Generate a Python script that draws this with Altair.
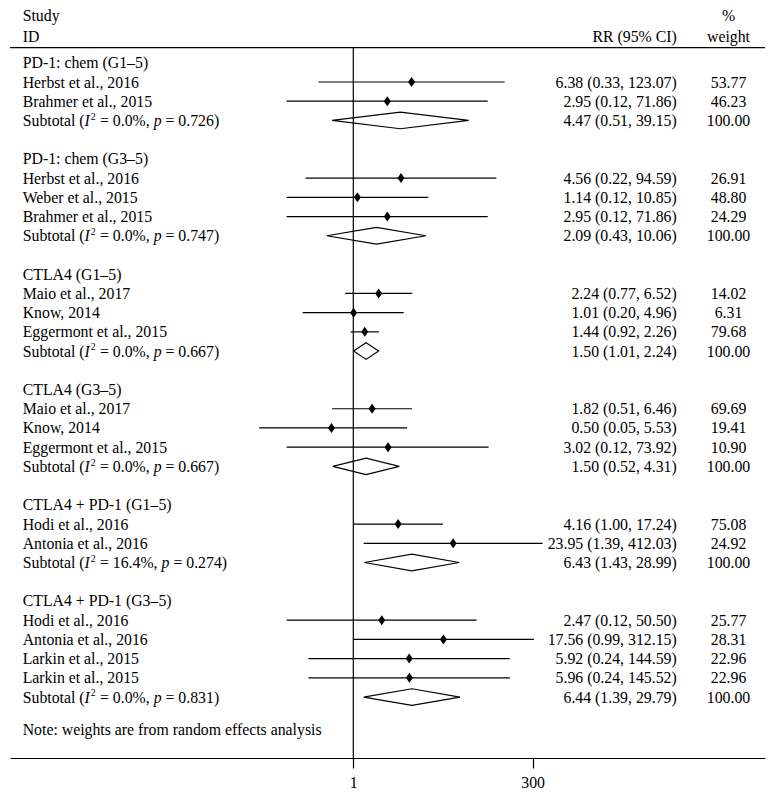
import altair as alt
import pandas as pd

# ---------------- data ----------------
group_titles = [
    "PD-1: chem (G1–5)",
    "PD-1: chem (G3–5)",
    "CTLA4 (G1–5)",
    "CTLA4 (G3–5)",
    "CTLA4 + PD-1 (G1–5)",
    "CTLA4 + PD-1 (G3–5)",
]
study_group = [0, 0, 1, 1, 1, 2, 2, 2, 3, 3, 3, 4, 4, 5, 5, 5, 5]
study_names = [
    "Herbst et al., 2016", "Brahmer et al., 2015",
    "Herbst et al., 2016", "Weber et al., 2015", "Brahmer et al., 2015",
    "Maio et al., 2017", "Know, 2014", "Eggermont et al., 2015",
    "Maio et al., 2017", "Know, 2014", "Eggermont et al., 2015",
    "Hodi et al., 2016", "Antonia et al., 2016",
    "Hodi et al., 2016", "Antonia et al., 2016", "Larkin et al., 2015", "Larkin et al., 2015",
]
study_rr = [6.38, 2.95, 4.56, 1.14, 2.95, 2.24, 1.01, 1.44, 1.82, 0.50, 3.02, 4.16, 23.95, 2.47, 17.56, 5.92, 5.96]
study_lo = [0.33, 0.12, 0.22, 0.12, 0.12, 0.77, 0.20, 0.92, 0.51, 0.05, 0.12, 1.00, 1.39, 0.12, 0.99, 0.24, 0.24]
study_hi = [123.07, 71.86, 94.59, 10.85, 71.86, 6.52, 4.96, 2.26, 6.46, 5.53, 73.92, 17.24, 412.03, 50.50, 312.15, 144.59, 145.52]
study_wt = [53.77, 46.23, 26.91, 48.80, 24.29, 14.02, 6.31, 79.68, 69.69, 19.41, 10.90, 75.08, 24.92, 25.77, 28.31, 22.96, 22.96]

sub_rr = [4.47, 2.09, 1.50, 1.50, 6.43, 6.44]
sub_lo = [0.51, 0.43, 1.01, 0.52, 1.43, 1.39]
sub_hi = [39.15, 10.06, 2.24, 4.31, 28.99, 29.79]
sub_i2 = ["0.0", "0.0", "0.0", "0.0", "16.4", "0.0"]
sub_p = ["0.726", "0.747", "0.667", "0.667", "0.274", "0.831"]
sub_wt = [100.00, 100.00, 100.00, 100.00, 100.00, 100.00]

x_ticks = [1, 300]
note_text = "Note: weights are from random effects analysis"

# ---------------- layout / style ----------------
FONT = "Liberation Serif"
F = 15.8
W, H = 755, 750
ROW0, STEP = 54.78, 19.22
LEFT_X, CI_X, WT_X = 12.7, 666.7, 718.5
DY = 5.5
LW = 1.2

# ---------------- build tables ----------------
hdr_rows, st_rows, sb_rows = [], [], []
r = 0
si = 0
for g, title in enumerate(group_titles):
    hdr_rows.append({"row": r, "label": title})
    r += 1
    while si < len(study_group) and study_group[si] == g:
        st_rows.append({"row": r, "label": study_names[si], "rr": study_rr[si],
                        "lo": study_lo[si], "hi": study_hi[si], "wt": study_wt[si]})
        si += 1
        r += 1
    sb_rows.append({"row": r, "grp": g, "rr": sub_rr[g], "lo": sub_lo[g], "hi": sub_hi[g],
                    "i2": sub_i2[g], "p": sub_p[g], "wt": sub_wt[g]})
    r += 2

hdr = pd.DataFrame(hdr_rows)
st = pd.DataFrame(st_rows)
sb = pd.DataFrame(sb_rows)
for d in (st, sb):
    d["ci"] = [f"{a:.2f} ({b:.2f}, {c:.2f})" for a, b, c in zip(d.rr, d.lo, d.hi)]
    d["wtxt"] = [f"{w:.2f}" for w in d.wt]

HALF = 8.3 / STEP
dia = []
for _, s in sb.iterrows():
    pts = [(s.lo, s.row), (s.rr, s.row - HALF), (s.hi, s.row), (s.rr, s.row + HALF), (s.lo, s.row)]
    for k, (xv, yv) in enumerate(pts):
        dia.append({"grp": s.grp, "k": k, "xv": xv, "yv": yv})
dia = pd.DataFrame(dia)

labels = pd.concat([hdr[["row", "label"]], st[["row", "label"]]])
cis = pd.concat([st[["row", "ci", "wtxt"]], sb[["row", "ci", "wtxt"]]])

xs = alt.Scale(type="log", domain=[10 ** -4.7417, 10 ** 5.6865], nice=False, zero=False)
ys = alt.Scale(domain=[-ROW0 / STEP, (H - ROW0) / STEP], reverse=True, nice=False, zero=False)
xaxis = alt.Axis(values=x_ticks, format="d", title=None, grid=False,
                 domainColor="black", domainWidth=LW, tickColor="black", tickWidth=LW,
                 tickSize=10, labelFont=FONT, labelFontSize=F, labelColor="black",
                 labelPadding=7.5, labelFlush=False, labelOverlap=False)
Y = alt.Y("row:Q", scale=ys, axis=None)

one = pd.DataFrame({"v": [1]})

top_line = alt.Chart(one).mark_rule(color="black", strokeWidth=LW).encode(
    x=alt.value(0), x2=alt.value(W), y=alt.value(39.7))
ref_line = alt.Chart(one).mark_rule(color="black", strokeWidth=LW).encode(
    x=alt.X("v:Q", scale=xs, axis=xaxis), y=alt.value(39.7), y2=alt.value(H))

ci_lines = alt.Chart(st).mark_rule(color="black", strokeWidth=LW).encode(
    x=alt.X("lo:Q", scale=xs, axis=xaxis), x2="hi:Q", y=Y)
pts = alt.Chart(st).mark_point(shape="M0,-1L0.7,0L0,1L-0.7,0Z", filled=True, size=100,
                               color="black", opacity=1).encode(
    x=alt.X("rr:Q", scale=xs, axis=xaxis), y=Y)
diamonds = alt.Chart(dia).mark_line(color="black", strokeWidth=LW, strokeJoin="miter").encode(
    x=alt.X("xv:Q", scale=xs, axis=xaxis), y=alt.Y("yv:Q", scale=ys, axis=None),
    detail="grp:N", order="k:Q")

def txt(data, **kw):
    base = dict(font=FONT, fontSize=F, color="black", baseline="alphabetic", dy=DY)
    base.update(kw)
    return alt.Chart(data).mark_text(**base)

lab_layer = txt(labels, align="left").encode(x=alt.value(LEFT_X), y=Y, text="label:N")
ci_layer = txt(cis, align="right").encode(x=alt.value(CI_X), y=Y, text="ci:N")
wt_layer = txt(cis, align="center").encode(x=alt.value(WT_X), y=Y, text="wtxt:N")

# header texts
def htxt(s, x, y, align):
    return alt.Chart(pd.DataFrame({"t": [s]})).mark_text(
        font=FONT, fontSize=F, color="black", baseline="alphabetic", align=align).encode(
        x=alt.value(x), y=alt.value(y), text="t:N")

headers = [
    htxt("Study", LEFT_X, 13.2, "left"),
    htxt("ID", LEFT_X, 33.7, "left"),
    htxt("RR (95% CI)", CI_X, 33.7, "right"),
    htxt("%", WT_X, 13.2, "center"),
    htxt("weight", WT_X, 33.7, "center"),
    htxt(note_text, LEFT_X, 726.5, "left"),
]

# subtotal labels with italic I, superscript 2, italic p
# (SVG drops leading/trailing spaces, so spaces are turned into x offsets)
TW = {"S": .556, "u": .5, "b": .5, "t": .278, "o": .5, "a": .444, "l": .278, " ": .25,
      "(": .333, ")": .333, "=": .564, ".": .25, ",": .25, "%": .833}
def tw(s):
    return sum(TW.get(c, .5) for c in s)

SP = 0.25
SUP = 0.62
sb["p1"] = "Subtotal ("
sb["p4"] = [f"= {v}%," for v in sb.i2]
sb["p6"] = [f"= {v})" for v in sb.p]
e_I = tw("Subtotal (")
e_2 = e_I + 0.333 + 0.06
e_4 = e_2 + 0.5 * SUP + 0.02
sub_layers = [
    txt(sb, align="left").encode(x=alt.value(LEFT_X), y=Y, text="p1:N"),
    txt(sb, align="left", fontStyle="italic", text="I").encode(x=alt.value(LEFT_X + e_I * F), y=Y),
    txt(sb, align="left", fontSize=F * SUP, dy=DY - 0.4 * F, text="2").encode(
        x=alt.value(LEFT_X + e_2 * F), y=Y),
    txt(sb, align="left").encode(x=alt.value(LEFT_X + (e_4 + SP) * F), y=Y, text="p4:N"),
]
for n in sorted(set(len(v) for v in sub_i2)):
    part = sb[sb.i2.str.len() == n]
    e_p = e_4 + SP + tw(part.p4.iloc[0]) + SP
    sub_layers.append(txt(part, align="left", fontStyle="italic", text="p").encode(
        x=alt.value(LEFT_X + e_p * F), y=Y))
    sub_layers.append(txt(part, align="left").encode(
        x=alt.value(LEFT_X + (e_p + 0.5 + SP) * F), y=Y, text="p6:N"))

chart = alt.layer(
    top_line, ref_line, ci_lines, diamonds, pts, lab_layer, ci_layer, wt_layer,
    *headers, *sub_layers
).properties(
    width=W, height=H, autosize="none",
    padding={"left": 2, "top": 0, "right": 4, "bottom": 32},
).configure_view(stroke=None)

chart.save("out.html", embed_options={"renderer": "svg", "actions": False})
